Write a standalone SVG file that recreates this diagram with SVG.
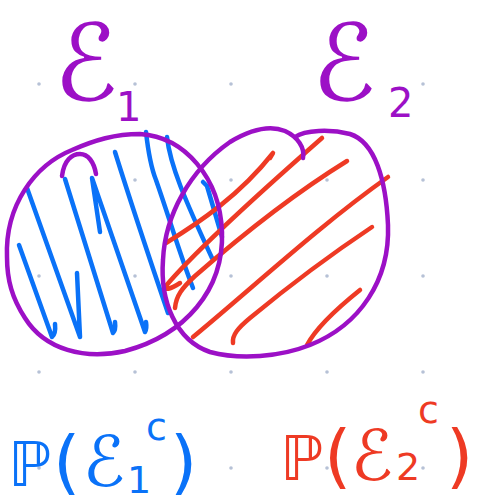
<svg xmlns="http://www.w3.org/2000/svg" width="481" height="504" viewBox="0 0 481 504">
<style>
.dot{fill:#b6c1d6}
.s{fill:none;stroke-width:4.5;stroke-linecap:round;stroke-linejoin:round}
.pu{stroke:#9c10c6}
.bl{stroke:#0a72f8}
.rd{stroke:#ee3a24}
.t{font-family:"DejaVu Sans","Noto Sans",sans-serif}
</style>
<rect width="481" height="504" fill="#ffffff"/>
<g id="grid">
<circle class="dot" cx="39" cy="84" r="1.8"/><circle class="dot" cx="135" cy="84" r="1.8"/><circle class="dot" cx="231" cy="84" r="1.8"/><circle class="dot" cx="327" cy="84" r="1.8"/><circle class="dot" cx="423" cy="84" r="1.8"/>
<circle class="dot" cx="135" cy="180" r="1.8"/><circle class="dot" cx="231" cy="180" r="1.8"/><circle class="dot" cx="327" cy="180" r="1.8"/><circle class="dot" cx="423" cy="180" r="1.8"/>
<circle class="dot" cx="39" cy="276" r="1.8"/><circle class="dot" cx="135" cy="276" r="1.8"/><circle class="dot" cx="231" cy="276" r="1.8"/><circle class="dot" cx="327" cy="276" r="1.8"/><circle class="dot" cx="423" cy="276" r="1.8"/>
<circle class="dot" cx="39" cy="372" r="1.8"/><circle class="dot" cx="135" cy="372" r="1.8"/><circle class="dot" cx="231" cy="372" r="1.8"/><circle class="dot" cx="327" cy="372" r="1.8"/><circle class="dot" cx="423" cy="372" r="1.8"/>
<circle class="dot" cx="39" cy="468" r="1.8"/><circle class="dot" cx="135" cy="468" r="1.8"/><circle class="dot" cx="231" cy="468" r="1.8"/><circle class="dot" cx="327" cy="468" r="1.8"/><circle class="dot" cx="423" cy="468" r="1.8"/>
</g>
<g id="hatch-blue" class="s bl">
<path d="M19,245 L52,337 Q56,334 55,324"/>
<path d="M27,188 L80,337 L77,273"/>
<path d="M65,179 L113,333 Q116,330 115,322"/>
<path d="M100,232 L92,178 L145,332 Q147,328 146,322"/>
<path d="M115,152 C130,200 150,260 168,313"/>
<path d="M146,132 C148,150 150,165 156,180 C170,220 180,255 193,288"/>
<path d="M167,137 C170,165 185,200 212,258"/>
<path d="M203,182 L207,186 L222,237"/>
</g>
<g id="hatch-red" class="s rd">
<path d="M166,243 C200,222 240,195 273,153 L270,158"/>
<path d="M180,283 Q166,292 165,287 Q200,245 322,138"/>
<path d="M175,308 C176,296 182,288 195,276 C250,228 300,190 347,161"/>
<path d="M193,337 C250,290 320,225 388,177"/>
<path d="M233,343 C232,335 238,328 250,318 C290,285 330,255 372,227"/>
<path d="M307,345 C315,330 335,310 360,290"/>
</g>
<g id="event-E1" class="s pu">
<path d="M7,257 C5,205 35,165 72,150 C95,140 115,134 140,134 C185,137 220,178 222,232 C224,290 185,335 125,351 C85,360 45,350 25,318 C12,298 7,280 7,257 Z"/>
<path d="M62,176 C64,160 72,154 80,154 C88,154 94,162 96,174"/>
</g>
<g id="event-E2" class="s pu">
<path d="M295,137 C305,130 330,129 350,134 C375,142 386,180 388,225 C390,280 360,325 310,345 C280,357 240,360 210,352 C175,340 160,300 163,260 C165,215 190,170 230,142 C250,130 270,125 285,131 C298,137 305,148 303,158"/>
</g>
<g id="labels">
<text class="t" x="54" y="100" font-size="106" fill="#9c10c6">ℰ<tspan x="116" y="121" font-size="40">1</tspan></text>
<text class="t" x="312" y="100" font-size="106" fill="#9c10c6">ℰ<tspan x="388" y="117" font-size="40">2</tspan></text>
<text class="t" x="8" y="486" font-size="62" fill="#0a72f8">ℙ<tspan x="53" font-size="70">(</tspan><tspan x="83" font-size="70">ℰ</tspan><tspan x="127" y="493" font-size="38">1</tspan><tspan x="146" y="440" font-size="38">c</tspan><tspan x="170" y="486" font-size="70">)</tspan></text>
<text class="t" x="280" y="480" font-size="62" fill="#ee3a24">ℙ<tspan x="324" font-size="70">(</tspan><tspan x="351" font-size="70">ℰ</tspan><tspan x="396" y="480" font-size="38">2</tspan><tspan x="418" y="423" font-size="38">c</tspan><tspan x="446" y="480" font-size="70">)</tspan></text>
</g>
</svg>
